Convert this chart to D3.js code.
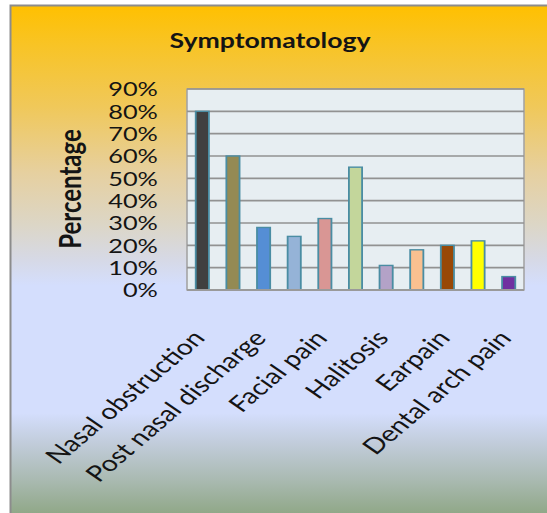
<!DOCTYPE html>
<html>
<head>
<meta charset="utf-8">
<script src="https://cdn.jsdelivr.net/npm/d3@7"></script>
<style>
  html, body { margin: 0; padding: 0; background: #ffffff; }
  svg { display: block; }
  text { font-family: Lato, "Open Sans", sans-serif; fill: #141414; }
</style>
</head>
<body>
<svg id="chart" width="547" height="513"></svg>
<script>
// Symptom categories (only every other one gets a visible axis label)
const categories = [
  "Nasal obstruction", "Nasal discharge", "Post nasal discharge", "Headache",
  "Facial pain", "Hyposmia", "Halitosis", "Cough", "Earpain", "Fever",
  "Dental arch pain"
];
// Share of patients reporting each symptom
const percentages = [0.80, 0.60, 0.28, 0.24, 0.32, 0.55, 0.11, 0.18, 0.20, 0.22, 0.06];
const barColors = [
  "#404040", "#948A54", "#558ED5", "#95B3D7", "#D99694", "#C3D69B",
  "#B3A2C7", "#FAC090", "#984807", "#FFFF00", "#7030A0"
];
const yTicks = [0, 0.1, 0.2, 0.3, 0.4, 0.5, 0.6, 0.7, 0.8, 0.9];
const labelledIdx = [0, 2, 4, 6, 8, 10];

const svg = d3.select("#chart");
const W = 547, H = 513;
const sx = 1.3; // horizontal stretch of the whole chart drawing

// Background fill of the chart frame
const defs = svg.append("defs");
const grad = defs.append("linearGradient")
  .attr("id", "bg").attr("gradientUnits", "userSpaceOnUse")
  .attr("x1", 0).attr("y1", 5).attr("x2", 0).attr("y2", 515);
[
  [0, "#FFC000"], [0.08, "#F8C426"], [0.2, "#F0C85A"], [0.33, "#E6D0A0"],
  [0.43, "#DCD6C6"], [0.5, "#D6D9E6"], [0.55, "#D4DEFD"], [0.8, "#D4DEFD"],
  [0.86, "#C1CCDA"], [0.93, "#AABAB2"], [1, "#8FA786"]
].forEach(([o, c]) => grad.append("stop").attr("offset", o).attr("stop-color", c));

svg.append("rect").attr("x", 10.5).attr("y", 5.5)
  .attr("width", W + 20).attr("height", H + 20)
  .attr("fill", "url(#bg)").attr("stroke", "#8C8C8C").attr("stroke-width", 2);

const g = svg.append("g").attr("transform", `scale(${sx},1)`);

const plot = { left: 187 / sx, right: 524 / sx, top: 89, bottom: 290 };

const x = d3.scaleBand()
  .domain(categories)
  .range([plot.left, plot.right])
  .paddingInner(0.57)
  .paddingOuter(0.285);

const y = d3.scaleLinear().domain([0, 0.9]).range([plot.bottom, plot.top]);

// Plot area
g.append("rect")
  .attr("x", plot.left).attr("y", plot.top)
  .attr("width", plot.right - plot.left).attr("height", plot.bottom - plot.top)
  .attr("fill", "#E7EEF2").attr("stroke", "#A3A3A3").attr("stroke-width", 1.2);

// Horizontal gridlines
g.append("g").selectAll("line")
  .data(yTicks.slice(1))
  .join("line")
  .attr("x1", plot.left).attr("x2", plot.right)
  .attr("y1", d => y(d)).attr("y2", d => y(d))
  .attr("stroke", "#929292").attr("stroke-width", 1.6);

// Bars
g.append("g").selectAll("rect")
  .data(percentages)
  .join("rect")
  .attr("x", (d, i) => x(categories[i]))
  .attr("width", x.bandwidth())
  .attr("y", d => y(d))
  .attr("height", d => y(0) - y(d))
  .attr("fill", (d, i) => barColors[i])
  .attr("stroke", "#4A8DA3")
  .attr("stroke-width", 1.4);

// Baseline
g.append("line")
  .attr("x1", plot.left).attr("x2", plot.right)
  .attr("y1", y(0)).attr("y2", y(0))
  .attr("stroke", "#9A9A9A").attr("stroke-width", 2);

// Y axis
const yAxis = g.append("g")
  .attr("transform", `translate(${121.5},0)`)
  .call(d3.axisLeft(y).tickValues(yTicks).tickFormat(d3.format(".0%")).tickSize(0).tickPadding(0));
yAxis.select(".domain").remove();
yAxis.selectAll("text")
  .attr("x", 0).attr("dy", "0.35em")
  .style("font-size", "19.5px").style("font-family", "Lato, sans-serif").attr("fill", "#141414");

// X axis with rotated labels
const xAxis = g.append("g")
  .attr("transform", `translate(0,${plot.bottom})`)
  .call(d3.axisBottom(x).tickSize(0)
    .tickFormat((d, i) => labelledIdx.includes(i) ? d : ""));
xAxis.select(".domain").remove();
xAxis.selectAll("text")
  .style("font-size", "22px").style("font-family", "Lato, sans-serif").attr("fill", "#141414")
  .attr("text-anchor", "end")
  .attr("dy", 0).attr("y", 0)
  .attr("transform", "translate(3,49) rotate(-48)");

// Y axis title
g.append("text")
  .attr("transform", `translate(${54},${189}) rotate(-90)`)
  .attr("text-anchor", "middle")
  .attr("dy", "0.35em")
  .style("font-size", "24px").style("font-weight", "bold")
  .text("Percentage");

// Chart title
g.append("text")
  .attr("x", 270 / sx).attr("y", 48)
  .attr("text-anchor", "middle")
  .style("font-size", "20.5px").style("font-weight", "bold")
  .text("Symptomatology");
</script>
</body>
</html>
